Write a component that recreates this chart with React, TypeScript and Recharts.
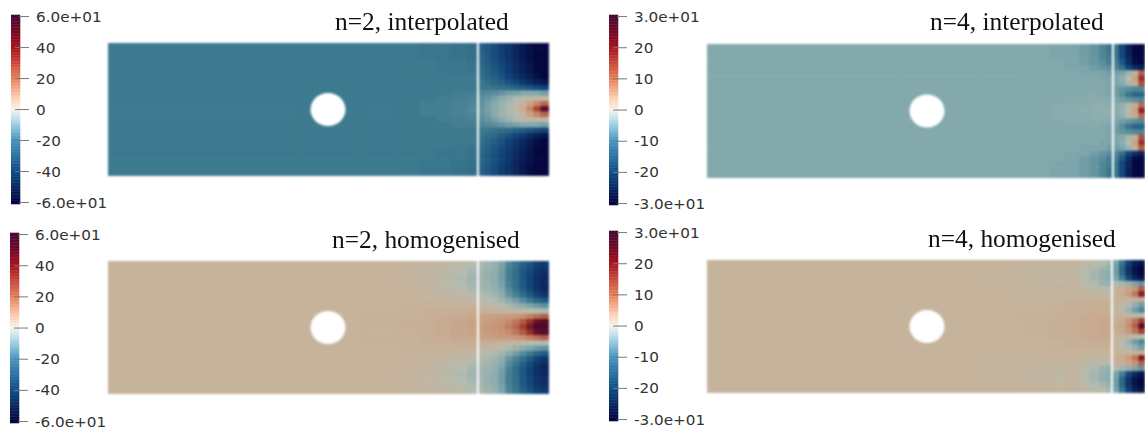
import { BarChart, Bar, Cell, XAxis, YAxis, ReferenceDot, ReferenceLine } from 'recharts';

// colour stops seen on the legends and on the (muted) field, keyed on value / max
const barStops: [number, string][] = [
  [-1, '#05063f'], [-0.67, '#0f4c86'], [-0.33, '#4a97bf'], [-0.12, '#b5dcea'], [0, '#f6f4ee'],
  [0.12, '#fcd2b6'], [0.33, '#e5835c'], [0.67, '#a8121f'], [0.85, '#6d0a26'], [1, '#4a0a35'],
];
const fieldStops: [number, string][] = [
  [-1, '#04083f'], [-0.67, '#12467a'], [-0.45, '#3d7a8f'], [-0.25, '#83a9ad'], [-0.08, '#b5bcb0'],
  [0.07, '#c6b39b'], [0.33, '#c98f70'], [0.67, '#a0402e'], [0.9, '#701020'], [1, '#4a0a30'],
];

const levelsN2 = [60, 58, 56, 54, 52, 50, 48, 46, 44, 42, 40, 38, 36, 34, 32, 30, 28, 26, 24, 22, 20, 18, 16, 14, 12, 10, 8, 6, 4, 2, 0, -2, -4, -6, -8, -10, -12, -14, -16, -18, -20, -22, -24, -26, -28, -30, -32, -34, -36, -38, -40, -42, -44, -46, -48, -50, -52, -54, -56, -58, -60];
const levelsN4 = [30, 29, 28, 27, 26, 25, 24, 23, 22, 21, 20, 19, 18, 17, 16, 15, 14, 13, 12, 11, 10, 9, 8, 7, 6, 5, 4, 3, 2, 1, 0, -1, -2, -3, -4, -5, -6, -7, -8, -9, -10, -11, -12, -13, -14, -15, -16, -17, -18, -19, -20, -21, -22, -23, -24, -25, -26, -27, -28, -29, -30];
const ticksN2 = [60, 40, 20, 0, -20, -40, -60];
const ticksN4 = [30, 20, 10, 0, -10, -20, -30];

// column spans along the plate, in the same units as the plate length (441 / 438)
const colsN2 = [192, 60, 40, 20, 16, 16, 16, 10, 7, 7, 7, 7, 7, 7, 7, 7, 7, 8];
const colsN4 = [193, 80, 40, 30, 15, 15, 10, 10, 7, 6, 6.5, 6.5, 6.5, 6.5, 6];

const interpN2 = [
  [-27, -27, -27, -27, -28, -28, -29, -30, -33, -36, -39, -43, -46, -50, -54, -58, -60, -60],
  [-27, -27, -27, -27, -28, -28, -29, -30, -33, -36, -39, -43, -46, -50, -54, -58, -60, -60],
  [-27, -27, -27, -27, -28, -28, -29, -30, -32, -35, -38, -42, -46, -50, -54, -57, -60, -60],
  [-27, -27, -27, -27, -27, -28, -28, -29, -32, -35, -38, -41, -45, -49, -53, -57, -60, -60],
  [-27, -27, -27, -27, -27, -28, -28, -29, -31, -34, -37, -40, -44, -48, -52, -56, -60, -60],
  [-27, -27, -27, -27, -27, -27, -28, -28, -30, -33, -36, -39, -43, -47, -51, -55, -59, -60],
  [-27, -27, -27, -27, -27, -27, -27, -27, -29, -32, -34, -37, -41, -45, -49, -53, -57, -60],
  [-27, -27, -27, -27, -27, -27, -27, -27, -28, -30, -32, -34, -37, -40, -44, -48, -52, -55],
  [-27, -27, -27, -27, -27, -27, -27, -27, -27, -28, -29, -30, -31, -33, -35, -37, -39, -41],
  [-27, -27, -27, -27, -27, -27, -26, -26, -24, -23, -22, -20, -18, -17, -15, -15, -15, -17],
  [-27, -27, -27, -27, -27, -26, -26, -25, -22, -20, -17, -13, -10, -6, -3, 0, 2, 3],
  [-27, -27, -27, -27, -26, -26, -25, -24, -21, -18, -14, -10, -7, -3, 3, 12, 22, 30],
  [-27, -27, -27, -27, -26, -26, -25, -23, -20, -17, -14, -10, -6, -1, 8, 22, 38, 58],
  [-27, -27, -27, -27, -26, -26, -25, -24, -21, -18, -14, -10, -7, -3, 3, 12, 22, 30],
  [-27, -27, -27, -27, -27, -26, -26, -25, -22, -20, -17, -13, -10, -6, -3, 0, 2, 3],
  [-27, -27, -27, -27, -27, -27, -26, -26, -24, -23, -22, -20, -18, -17, -15, -15, -15, -17],
  [-27, -27, -27, -27, -27, -27, -27, -27, -27, -28, -29, -30, -31, -33, -35, -37, -39, -41],
  [-27, -27, -27, -27, -27, -27, -27, -27, -28, -30, -32, -34, -37, -40, -44, -48, -52, -55],
  [-27, -27, -27, -27, -27, -27, -27, -27, -29, -32, -34, -37, -41, -45, -49, -53, -57, -60],
  [-27, -27, -27, -27, -27, -27, -28, -28, -30, -33, -36, -39, -43, -47, -51, -55, -59, -60],
  [-27, -27, -27, -27, -27, -28, -28, -29, -31, -34, -37, -40, -44, -48, -52, -56, -60, -60],
  [-27, -27, -27, -27, -27, -28, -28, -29, -32, -35, -38, -41, -45, -49, -53, -57, -60, -60],
  [-27, -27, -27, -27, -28, -28, -29, -30, -32, -35, -38, -42, -46, -50, -54, -57, -60, -60],
  [-27, -27, -27, -27, -28, -28, -29, -30, -33, -36, -39, -43, -46, -50, -54, -58, -60, -60],
  [-27, -27, -27, -27, -28, -28, -29, -30, -33, -36, -39, -43, -46, -50, -54, -58, -60, -60],
];

const homogN2 = [
  [4, 4, 4, 3, 2, 1, -1, -4, -7, -9, -11, -16, -24, -28, -33, -37, -42, -44],
  [4, 4, 4, 3, 1, -1, -3, -6, -8, -10, -12, -17, -25, -29, -35, -39, -44, -46],
  [4, 4, 4, 3, 1, -2, -5, -8, -9, -11, -13, -18, -26, -30, -36, -40, -46, -48],
  [4, 4, 4, 3, 1, -2, -6, -9, -9, -11, -13, -18, -26, -30, -36, -41, -47, -49],
  [4, 4, 4, 3, 2, -1, -5, -8, -9, -10, -12, -17, -25, -30, -36, -41, -47, -50],
  [4, 4, 4, 4, 2, 0, -3, -7, -8, -9, -11, -15, -23, -28, -34, -39, -45, -49],
  [4, 4, 4, 4, 3, 2, 0, -4, -6, -7, -9, -13, -20, -25, -30, -35, -41, -45],
  [4, 4, 4, 4, 4, 3, 2, 0, -3, -4, -6, -9, -14, -18, -23, -27, -32, -35],
  [4, 4, 4, 5, 5, 5, 5, 4, 1, 0, -2, -4, -7, -10, -13, -16, -19, -21],
  [4, 4, 4, 5, 6, 6, 7, 7, 6, 6, 5, 4, 3, 1, -1, -3, -5, -6],
  [4, 4, 5, 5, 6, 7, 8, 9, 11, 12, 13, 14, 15, 16, 20, 24, 28, 32],
  [4, 4, 5, 6, 7, 8, 10, 11, 13, 14, 16, 18, 21, 26, 33, 44, 55, 58],
  [4, 4, 5, 6, 7, 8, 10, 12, 14, 16, 18, 20, 24, 30, 40, 52, 60, 60],
  [4, 4, 5, 6, 7, 8, 10, 11, 13, 14, 16, 18, 21, 26, 33, 44, 55, 58],
  [4, 4, 5, 5, 6, 7, 8, 9, 11, 12, 13, 14, 15, 16, 20, 24, 28, 32],
  [4, 4, 4, 5, 6, 6, 7, 7, 6, 6, 5, 4, 3, 1, -1, -3, -5, -6],
  [4, 4, 4, 5, 5, 5, 5, 4, 1, 0, -2, -4, -7, -10, -13, -16, -19, -21],
  [4, 4, 4, 4, 4, 3, 2, 0, -3, -4, -6, -9, -14, -18, -23, -27, -32, -35],
  [4, 4, 4, 4, 3, 2, 0, -4, -6, -7, -9, -13, -20, -25, -30, -35, -41, -45],
  [4, 4, 4, 4, 2, 0, -3, -7, -8, -9, -11, -15, -23, -28, -34, -39, -45, -49],
  [4, 4, 4, 3, 2, -1, -5, -8, -9, -10, -12, -17, -25, -30, -36, -41, -47, -50],
  [4, 4, 4, 3, 1, -2, -6, -9, -9, -11, -13, -18, -26, -30, -36, -41, -47, -49],
  [4, 4, 4, 3, 1, -2, -5, -8, -9, -11, -13, -18, -26, -30, -36, -40, -46, -48],
  [4, 4, 4, 3, 1, -1, -3, -6, -8, -10, -12, -17, -25, -29, -35, -39, -44, -46],
  [4, 4, 4, 3, 2, 1, -1, -4, -7, -9, -11, -16, -24, -28, -33, -37, -42, -44],
];

const interpN4 = [
  [-7.5, -7.5, -7.5, -7.5, -8, -8, -9, -10, -12, -14, -14, -20, -26, -30, -30],
  [-7.5, -7.5, -7.5, -7.5, -8, -8, -9, -10, -12, -14, -14, -20, -26, -30, -30],
  [-7.5, -7.5, -7.5, -7.5, -8, -8, -9, -10, -12, -13, -14, -20, -25, -30, -30],
  [-7.5, -7.5, -7.5, -7.5, -7.5, -8, -9, -10, -11, -13, -13, -18, -24, -29, -30],
  [-7.5, -7.5, -7.5, -7.5, -7.5, -8, -8, -9, -10, -11, -12, -15, -20, -24, -26],
  [-7.5, -7.5, -7.5, -7.5, -7.5, -7.5, -8, -8, -8, -9, -9, -8, -5, 3, 16],
  [-7.5, -7.5, -7.5, -7.5, -7.5, -7.5, -7.5, -7.5, -8, -8, -8, -6, -2, 6, 22],
  [-7.5, -7.5, -7.5, -7.5, -7.5, -7.5, -7.5, -7.5, -7.5, -8, -8, -7, -4, 3, 18],
  [-7.5, -7.5, -7.5, -7.5, -7.5, -7.5, -7.5, -7.5, -7.5, -8, -9, -10, -11, -12, -12],
  [-7.5, -7.5, -7.5, -7.5, -7.5, -7.5, -7.5, -7, -7.5, -8, -9, -11, -14, -16, -16],
  [-7.5, -7.5, -7.5, -7.5, -7.5, -7, -7, -7, -7, -7, -8, -9, -10, -11, -12],
  [-7.5, -7.5, -7.5, -7.5, -7, -7, -7, -6.5, -6.5, -6.5, -7, -6, -3, 4, 15],
  [-7.5, -7.5, -7.5, -7.5, -7, -7, -6.5, -6.5, -6, -6, -7, -5, -1, 6, 24],
  [-7.5, -7.5, -7.5, -7.5, -7, -7, -7, -6.5, -6.5, -6.5, -7, -6, -3, 4, 15],
  [-7.5, -7.5, -7.5, -7.5, -7.5, -7, -7, -7, -7, -7, -8, -9, -10, -11, -12],
  [-7.5, -7.5, -7.5, -7.5, -7.5, -7.5, -7.5, -7, -7.5, -8, -9, -11, -14, -16, -16],
  [-7.5, -7.5, -7.5, -7.5, -7.5, -7.5, -7.5, -7.5, -7.5, -8, -9, -10, -11, -12, -12],
  [-7.5, -7.5, -7.5, -7.5, -7.5, -7.5, -7.5, -7.5, -7.5, -8, -8, -7, -4, 3, 18],
  [-7.5, -7.5, -7.5, -7.5, -7.5, -7.5, -7.5, -7.5, -8, -8, -8, -6, -2, 6, 22],
  [-7.5, -7.5, -7.5, -7.5, -7.5, -7.5, -8, -8, -8, -9, -9, -8, -5, 3, 16],
  [-7.5, -7.5, -7.5, -7.5, -7.5, -8, -8, -9, -10, -11, -12, -15, -20, -24, -26],
  [-7.5, -7.5, -7.5, -7.5, -7.5, -8, -9, -10, -11, -13, -13, -18, -24, -29, -30],
  [-7.5, -7.5, -7.5, -7.5, -8, -8, -9, -10, -12, -13, -14, -20, -25, -30, -30],
  [-7.5, -7.5, -7.5, -7.5, -8, -8, -9, -10, -12, -14, -14, -20, -26, -30, -30],
  [-7.5, -7.5, -7.5, -7.5, -8, -8, -9, -10, -12, -14, -14, -20, -26, -30, -30],
];

const homogN4 = [
  [2, 2, 2, 1.5, 1, 1, 0, -1, -2, -4, -8, -14, -21, -26, -28],
  [2, 2, 2, 1, 0.5, 1, -1, -3, -4, -6, -9, -16, -23, -28, -30],
  [2, 2, 2, 1, 0, 1, -2, -4, -6, -7, -9, -16, -23, -28, -30],
  [2, 2, 1.5, 1, 0, 1, -2, -4, -6, -7, -8, -13, -20, -25, -28],
  [2, 2, 1.5, 1, 0.5, 1, -1, -3, -5, -6, -3, -4, -6, -8, -10],
  [2, 2, 2, 1.5, 1, 1.5, 0, -1, -2, -3, 2, 3, 5, 9, 16],
  [2, 2, 2, 2, 2, 2, 2, 1, 1, 0, 3, 4, 7, 13, 25],
  [2, 2, 2, 2, 2, 2, 2, 2, 2, 2, 2, 2, 2, 3, 4],
  [2, 2, 2, 2, 2.5, 3, 3, 3, 3, 3, 1, -1, -3, -6, -9],
  [2, 2, 2, 2, 2.5, 3, 3, 3.5, 3.5, 3.5, 1, -2, -5, -9, -12],
  [2, 2, 2, 2.5, 3, 3, 3.5, 4, 4, 4, 2, 2, 1, -1, -2],
  [2, 2, 2, 2.5, 3, 3.5, 4, 4, 4.5, 4.5, 3, 4, 8, 13, 20],
  [2, 2, 2, 2.5, 3, 3.5, 4, 4, 4.5, 5, 4, 5, 10, 16, 29],
  [2, 2, 2, 2.5, 3, 3.5, 4, 4, 4.5, 4.5, 3, 4, 8, 13, 20],
  [2, 2, 2, 2.5, 3, 3, 3.5, 4, 4, 4, 2, 2, 1, -1, -2],
  [2, 2, 2, 2, 2.5, 3, 3, 3.5, 3.5, 3.5, 1, -2, -5, -9, -12],
  [2, 2, 2, 2, 2.5, 3, 3, 3, 3, 3, 1, -1, -3, -6, -9],
  [2, 2, 2, 2, 2, 2, 2, 2, 2, 2, 2, 2, 2, 3, 4],
  [2, 2, 2, 2, 2, 2, 2, 1, 1, 0, 3, 4, 7, 13, 25],
  [2, 2, 2, 1.5, 1, 1.5, 0, -1, -2, -3, 2, 3, 5, 9, 16],
  [2, 2, 1.5, 1, 0.5, 1, -1, -3, -5, -6, -3, -4, -6, -8, -10],
  [2, 2, 1.5, 1, 0, 1, -2, -4, -6, -7, -8, -13, -20, -25, -28],
  [2, 2, 2, 1, 0, 1, -2, -4, -6, -7, -9, -16, -23, -28, -30],
  [2, 2, 2, 1, 0.5, 1, -1, -3, -4, -6, -9, -16, -23, -28, -30],
  [2, 2, 2, 1.5, 1, 1, 0, -1, -2, -4, -8, -14, -21, -26, -28],
];

function hexToRgb(h: string) {
  return [1, 3, 5].map((i) => parseInt(h.slice(i, i + 2), 16));
}

function colorAt(stops: [number, string][], t: number) {
  const v = Math.max(-1, Math.min(1, t));
  for (let i = 1; i < stops.length; i++) {
    if (v <= stops[i][0]) {
      const [a, ca] = stops[i - 1];
      const [b, cb] = stops[i];
      const f = (v - a) / (b - a);
      const A = hexToRgb(ca);
      const B = hexToRgb(cb);
      return `rgb(${A.map((c, k) => Math.round(c + (B[k] - c) * f)).join(',')})`;
    }
  }
  return stops[stops.length - 1][1];
}

function tickLabel(v: number, max: number) {
  if (v === max) return max === 60 ? '6.0e+01' : '3.0e+01';
  if (v === -max) return max === 60 ? '-6.0e+01' : '-3.0e+01';
  return String(v);
}

function BarTick({ x, y, payload, max }: any) {
  // recharts hands x already 6px off the axis line
  const right = x - 6;
  const isEnd = Math.abs(payload.value) === max;
  return (
    <g>
      <line x1={right - (isEnd ? 1 : 5)} x2={right + 9} y1={y} y2={y} stroke="#777" strokeWidth={1} />
      <text
        transform={`translate(${right + 16},${y + 5}) scale(1.05,1)`}
        fontFamily="DejaVu Sans" fontSize={14.5} fill="#333"
      >
        {tickLabel(payload.value, max)}
      </text>
    </g>
  );
}

function Colorbar({ left, tickTop, tickBottom, levels, ticks, max }: any) {
  const data = levels.map((level: number) => ({ level, span: 1 }));
  const band = (tickBottom - tickTop) / (levels.length - 1);
  const pad = 12;
  const height = band * levels.length + pad * 2;
  return (
    <div style={{ position: 'absolute', left, top: tickTop - band / 2 - pad }}>
      <BarChart width={130} height={height} data={data} layout="vertical" barCategoryGap={0} margin={{ top: pad, right: 0, bottom: pad, left: 0 }}>
        <XAxis type="number" domain={[0, 1]} hide />
        <YAxis
          type="category" dataKey="level" orientation="right" width={121} ticks={ticks} interval={0}
          axisLine={false} tickLine={false} tickMargin={0}
          tick={(p: any) => <BarTick {...p} max={max} />}
        />
        <Bar dataKey="span" isAnimationActive={false}>
          {levels.map((level: number) => {
            const c = colorAt(barStops, level / max);
            return <Cell key={level} fill={c} stroke={c} strokeWidth={0.6} />;
          })}
        </Bar>
      </BarChart>
    </div>
  );
}

function Field({ left, top, width, height, rows, cols, max, lineX, holeX }: any) {
  const data = rows.map((_: number[], row: number) => {
    const entry: Record<string, number> = { row };
    cols.forEach((w: number, c: number) => { entry[`c${c}`] = w; });
    return entry;
  });
  return (
    <div style={{ position: 'absolute', left, top, filter: 'blur(0.8px)' }}>
      <BarChart width={width} height={height} data={data} layout="vertical" barCategoryGap={0} barGap={0} margin={{ top: 0, right: 0, bottom: 0, left: 0 }}>
        <XAxis type="number" domain={[0, width]} hide />
        <YAxis type="category" dataKey="row" hide />
        {cols.map((_: number, c: number) => (
          <Bar key={c} dataKey={`c${c}`} stackId="plate" isAnimationActive={false}>
            {rows.map((r: number[], i: number) => {
              const fill = colorAt(fieldStops, r[c] / max);
              return <Cell key={i} fill={fill} stroke={fill} strokeWidth={1.1} />;
            })}
          </Bar>
        ))}
        <ReferenceLine x={lineX} stroke="#ffffff" strokeWidth={2} />
        <ReferenceDot
          x={holeX} y={12} r={17} fill="#fff" stroke="none"
          shape={(p: any) => <ellipse cx={p.cx} cy={p.cy} rx={17.5} ry={16.5} fill="#fff" />}
        />
      </BarChart>
    </div>
  );
}

function Title({ left, top, text }: any) {
  return (
    <div style={{ position: 'absolute', left, top, fontFamily: 'Liberation Serif', fontSize: 25.4, color: '#111', whiteSpace: 'nowrap', lineHeight: '28px', filter: 'blur(0.3px)' }}>
      {text}
    </div>
  );
}

export default function App() {
  return (
    <div style={{ position: 'absolute', left: 0, top: 0, width: 1145, height: 431, overflow: 'hidden', background: '#fff' }}>
      <Colorbar left={11} tickTop={17} tickBottom={203} levels={levelsN2} ticks={ticksN2} max={60} />
      <Field left={108} top={43} width={441} height={133} rows={interpN2} cols={colsN2} max={60} lineX={370} holeX={220} />

      <Colorbar left={609} tickTop={17} tickBottom={204} levels={levelsN4} ticks={ticksN4} max={30} />
      <Field left={707} top={44} width={438} height={134} rows={interpN4} cols={colsN4} max={30} lineX={406} holeX={220} />

      <Colorbar left={10} tickTop={235} tickBottom={422} levels={levelsN2} ticks={ticksN2} max={60} />
      <Field left={108} top={261} width={441} height={133} rows={homogN2} cols={colsN2} max={60} lineX={370} holeX={220} />

      <Colorbar left={609} tickTop={233} tickBottom={420} levels={levelsN4} ticks={ticksN4} max={30} />
      <Field left={707} top={260} width={438} height={133} rows={homogN4} cols={colsN4} max={30} lineX={405} holeX={220} />

      <Title left={335} top={7} text="n=2, interpolated" />
      <Title left={930} top={7} text="n=4, interpolated" />
      <Title left={332} top={225} text="n=2, homogenised" />
      <Title left={928} top={224} text="n=4, homogenised" />
    </div>
  );
}
